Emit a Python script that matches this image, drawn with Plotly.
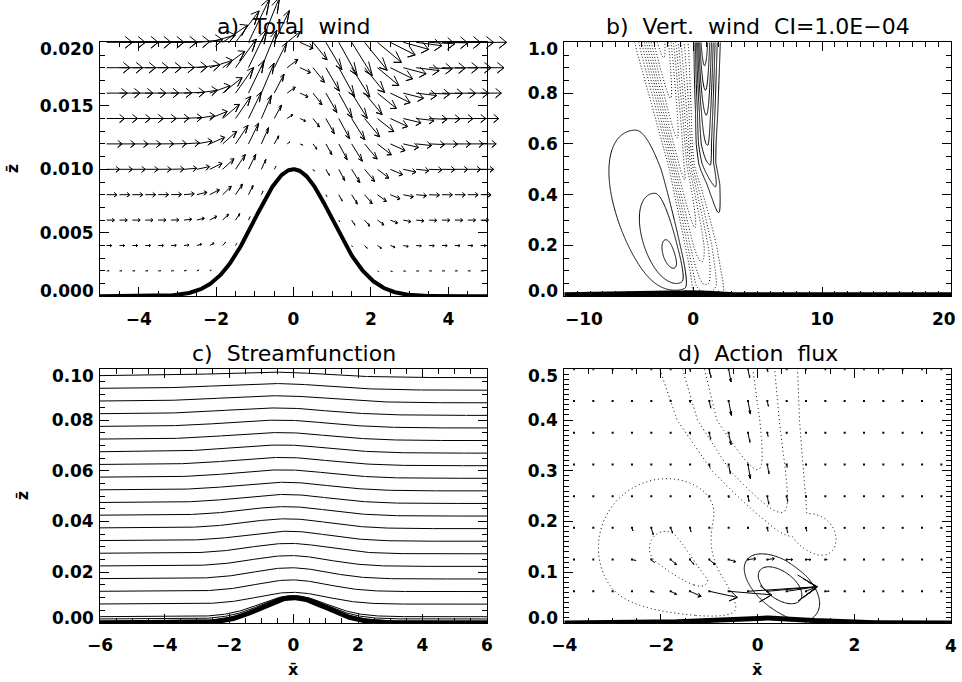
import numpy as np
import plotly.graph_objects as go

FIG_W, FIG_H = 962, 682

# ====================== data ======================
hill_height = 0.01          # crest height of the gaussian hill
hill_sigma = 1.0            # gaussian half-width

# a) total wind: arrow grid + wave shape parameters
a_x = [round(-4.83 + k / 3.0, 3) for k in range(30)]
a_z = [0.002, 0.004, 0.006, 0.008, 0.010, 0.012, 0.014, 0.016, 0.018, 0.020]
a_arrow_len = 33.3          # arrow length per unit wind
a_up_narrow = 10.0          # upstream wave narrowing per unit height
a_lee_widen = 5.0           # lee wave widening per unit height

# b) vertical wind (units of CI = 1e-4)
b_left = [6.5, 0.10, 0.35, -0.5, -6.0, 1.5, 3.5, 0.3, 2.2]   # amp, rise, decay, x0, tilt, wl0, wl1, wr0, wr1
b_n_z = [0.0, 0.05, 0.2, 0.5, 0.97, 1.0]                     # negative band
b_n_xc = [1.1, 0.97, 0.39, -0.85, -2.4, -2.5]
b_n_half = [1.3, 1.36, 1.42, 1.2, 2.13, 2.15]
b_n_amp = [-1.5, -3.1, -4.7, -6.5, -9.3, -9.5]
b_p_z = [0.30, 0.33, 0.44, 0.525, 0.60, 0.72, 1.0]          # upper positive lobe
b_p_xc = [2.0, 1.95, 1.7, 1.3, 1.1, 1.0, 0.8]
b_p_amp = [0.0, 1.1, 2.1, 3.1, 4.1, 5.1, 8.0]
b_p_sl = [0.3, 0.3, 0.6, 0.8, 0.7, 0.55, 0.4]
b_p_sr = [0.25, 0.25, 0.3, 0.3, 0.4, 0.5, 0.64]

# c) streamfunction: upstream height of each streamline and its crest displacement
c_z0 = [0.0008, 0.0016, 0.0025, 0.0075, 0.0125, 0.0175, 0.0225, 0.0275, 0.0325,
        0.0375, 0.0425, 0.0475, 0.0525, 0.0575, 0.0625, 0.0675, 0.0725, 0.0775,
        0.0825, 0.0875, 0.0925, 0.0975]
c_eta = [0.0095, 0.0090, 0.0083, 0.0046, 0.0045, 0.0043, 0.0041, 0.0039, 0.0037,
         0.0036, 0.0034, 0.0032, 0.0030, 0.0029, 0.0028, 0.0027, 0.0026, 0.0025,
         0.0023, 0.0021, 0.0019, 0.0014]
c_shift = -4.5              # crest shift per unit height
c_widen = 8.0               # bump widening per unit height
c_drop = 0.008              # downstream lowering per unit height

# d) action flux: arrow grid, explicit low rows, descending band
d_x = [round(-3.8 + 0.4 * k, 2) for k in range(20)]
d_z = [0.0625, 0.125, 0.1875, 0.25, 0.3125, 0.375, 0.4375, 0.5]
d_row1_dx = [0, 0, 0, 0.02, 0.06, 0.12, 0.23, 0.58, 0.89, 1.43, 1.03, 0.63, 0.23, 0.08, 0.02, 0, 0, 0, 0, 0]
d_row1_dz = [0, 0, 0, 0, -0.002, -0.006, -0.010, -0.012, -0.007, 0.009, 0.009, 0.009, 0.009, 0, 0, 0, 0, 0, 0, 0]
d_row2_dx = [0, 0, 0.01, 0.08, 0.06, 0.12, 0.08, 0.12, 0.145, 0.165, 0.145, 0.124, 0.10, 0.04, 0, 0, 0, 0, 0, 0]
d_row2_dz = [0, 0, 0, -0.002, -0.006, -0.010, -0.010, -0.010, -0.004, 0.002, 0.002, 0, 0, 0, 0, 0, 0, 0, 0, 0]
d_row3_dx = [0, 0, 0, 0.02, 0.04, 0.04, 0.02, 0, 0, 0, 0, 0, 0, 0, 0, 0, 0, 0, 0, 0]
d_row3_dz = [0, 0, 0, -0.006, -0.014, -0.010, -0.008, 0, 0, 0, 0, 0, 0, 0, 0, 0, 0, 0, 0, 0]
d_band_xc = [0, 0, 0.6, 0.2, -0.2, -0.5, -0.45, -0.6]
d_band_dz = [0, 0, 0.010, 0.016, 0.028, 0.024, 0.030, 0.025]
d_band_dx = [0, 0, 0.02, 0.03, 0.05, 0.05, 0.06, 0.05]
d_band_w = 0.45
# contours: descending negative band (profile vs height)
d_up_z = [0.10, 0.15, 0.20, 0.30, 0.40, 0.50, 0.55]
d_up_xc = [0.80, 0.70, 0.55, 0.0, -0.40, -0.60, -0.70]
d_up_sig = [0.35, 0.38, 0.42, 0.64, 0.80, 0.90, 0.95]
d_up_amp = [-0.5, -1.2, -2.0, -3.0, -3.5, -3.5, -3.5]
d_lower = (-2.62, (-0.8, 0.067), (-1.85, 0.148), 1.5)     # lower-left lobe (exponential)
d_bulge = (-1.8, (1.05, 0.16), 0.55)                       # lobe right of the cell
d_cell = (2.7, (0.45, 0.075), (0.811, -0.585), 0.75, 0.41)  # positive cell: amp, centre, axis, widths

# ====================== layout boxes (pixels) ======================
BOX = {'a': (100, 487, 42.3, 296.3), 'b': (564.3, 951, 42.3, 296.3),
       'c': (100, 487, 369.3, 623), 'd': (564.3, 951, 369.3, 623)}
RNG = {'a': ([-5, 5], [0, 0.02]), 'b': ([-10, 20], [0, 1]),
       'c': ([-6, 6], [0, 0.1]), 'd': ([-4, 4], [0, 0.5])}


def xdom(k):
    return [BOX[k][0] / FIG_W, BOX[k][1] / FIG_W]


def ydom(k):
    return [1 - BOX[k][3] / FIG_H, 1 - BOX[k][2] / FIG_H]


def hill(x):
    x = np.asarray(x, dtype=float)
    return hill_height * np.exp(-x ** 2 / (2 * hill_sigma ** 2))


def quiver(x0, z0, dx, dz, xstep, zstep, r=0.3, ang=np.deg2rad(22.5)):
    st, ct = r * np.sin(ang), r * np.cos(ang)
    xs, ys = [], []
    for X0, Z0, DX, DZ in zip(x0, z0, dx, dz):
        if DX == 0 and DZ == 0:
            continue
        X1, Z1 = X0 + DX, Z0 + DZ
        ux, uz = DX / xstep, DZ / zstep
        xs += [X0, X1, X1 - (ct * ux - st * uz) * xstep, X1, X1 - (ct * ux + st * uz) * xstep, None]
        ys += [Z0, Z1, Z1 - (ct * uz + st * ux) * zstep, Z1, Z1 - (ct * uz - st * ux) * zstep, None]
    return xs, ys


def asym_gauss(X, c, sl, sr):
    s = np.where(X < c, sl, sr)
    return np.exp(-0.5 * ((X - c) / s) ** 2)


fig = go.Figure()
BLK = 'black'

# ---------------------------- panel a ----------------------------
AX, AZ = np.meshgrid(np.array(a_x), np.array(a_z))
sig = np.where(AX < 0, hill_sigma - a_up_narrow * AZ, hill_sigma + a_lee_widen * AZ)
eta = hill_height * np.exp(-AX ** 2 / (2 * sig ** 2))
eta_x = -AX / sig ** 2 * eta
ua = AZ - eta
wa = ua * eta_x
ok = (AZ > hill(AX)) & (ua > 0)
adx = np.where(ok, a_arrow_len * ua, 0.0)
adz = np.where(ok, a_arrow_len * wa, 0.0)
qx, qy = quiver(AX.ravel(), AZ.ravel(), adx.ravel(), adz.ravel(), 1 / 3.0, 0.002)
fig.add_trace(go.Scatter(x=qx, y=qy, mode='lines', line=dict(color=BLK, width=1),
                         xaxis='x5', yaxis='y5', hoverinfo='skip'))
hx = np.linspace(-5, 5, 401)
fig.add_trace(go.Scatter(x=hx, y=hill(hx), mode='lines', line=dict(color=BLK, width=4),
                         xaxis='x', yaxis='y', hoverinfo='skip'))

# ---------------------------- panel b ----------------------------
bx = np.round(np.arange(-10, 6.0001, 0.04), 3)
bz = np.round(np.linspace(0, 1, 251), 4)
BX, BZ = np.meshgrid(bx, bz)
amp, rise, decay, x0, tilt, wl0, wl1, wr0, wr1 = b_left
L = amp * (1 - np.exp(-BZ / rise)) * np.exp(-BZ / decay) * \
    asym_gauss(BX, x0 + tilt * BZ, wl0 + wl1 * BZ, wr0 + wr1 * BZ)
nA = np.interp(BZ, b_n_z, b_n_amp)
nC = np.interp(BZ, b_n_z, b_n_xc)
nS = np.interp(BZ, b_n_z, b_n_half) / np.sqrt(2 * np.log(np.abs(nA)))
N = nA * np.exp(-0.5 * ((BX - nC) / nS) ** 2)
pA = np.interp(BZ, b_p_z, b_p_amp)
P = pA * asym_gauss(BX, np.interp(BZ, b_p_z, b_p_xc), np.interp(BZ, b_p_z, b_p_sl),
                    np.interp(BZ, b_p_z, b_p_sr))
WB = np.round(L + N + P, 3)
fig.add_trace(go.Contour(x=bx, y=bz, z=WB, xaxis='x2', yaxis='y2', showscale=False,
                         autocontour=False, contours=dict(start=1, end=30, size=1, coloring='none'),
                         line=dict(color=BLK, width=1), hoverinfo='skip'))
fig.add_trace(go.Contour(x=bx, y=bz, z=WB, xaxis='x2', yaxis='y2', showscale=False,
                         autocontour=False, contours=dict(start=-30, end=-1, size=1, coloring='none'),
                         line=dict(color=BLK, width=1, dash='1px,2px'), hoverinfo='skip'))
hbx = np.linspace(-10, 20, 601)
fig.add_trace(go.Scatter(x=hbx, y=hill(hbx), mode='lines', line=dict(color=BLK, width=8),
                         xaxis='x2', yaxis='y2', hoverinfo='skip'))

# ---------------------------- panel c ----------------------------
cx = np.linspace(-6, 6, 361)
for z0, ec in zip(c_z0, c_eta):
    s = c_shift * z0
    wdt = hill_sigma + c_widen * z0
    step = 0.5 * (1 + np.tanh((cx - 0.6) / 0.7))
    zl = z0 + ec * np.exp(-(cx - s) ** 2 / (2 * wdt ** 2)) - c_drop * z0 * step
    fig.add_trace(go.Scatter(x=cx, y=zl, mode='lines', line=dict(color=BLK, width=1),
                             xaxis='x3', yaxis='y3', hoverinfo='skip'))
fig.add_trace(go.Scatter(x=cx, y=hill(cx), mode='lines', line=dict(color=BLK, width=5),
                         xaxis='x3', yaxis='y3', hoverinfo='skip'))

# ---------------------------- panel d ----------------------------
zscale = ((BOX['d'][3] - BOX['d'][2]) / 0.5) / ((BOX['d'][1] - BOX['d'][0]) / 8.0)
dxg = np.linspace(-4, 4, 321)
dzg = np.linspace(0, 0.5, 201)
DX, DZ = np.meshgrid(dxg, dzg)
DZs = DZ * zscale


def seg_dist(p1, p2):
    p1x, p1z = p1[0], p1[1] * zscale
    p2x, p2z = p2[0], p2[1] * zscale
    vx, vz = p2x - p1x, p2z - p1z
    t = np.clip(((DX - p1x) * vx + (DZs - p1z) * vz) / (vx * vx + vz * vz), 0, 1)
    return np.hypot(DX - (p1x + t * vx), DZs - (p1z + t * vz))


uA = np.interp(DZ, d_up_z, d_up_amp, left=0.0)
F_up = uA * np.exp(-0.5 * ((DX - np.interp(DZ, d_up_z, d_up_xc)) / np.interp(DZ, d_up_z, d_up_sig)) ** 2)
amp, p1, p2, sg = d_lower
F_lo = amp * np.exp(-seg_dist(p1, p2) / sg) * (1 - np.exp(-DZ / 0.015))
amp, cc, sg = d_bulge
F_rb = amp * np.exp(-0.5 * ((DX - cc[0]) ** 2 + (DZs - cc[1] * zscale) ** 2) / sg ** 2)
amp, cc, ax_, sa, sc = d_cell
ra = (DX - cc[0]) * ax_[0] + (DZs - cc[1] * zscale) * ax_[1]
rc = -(DX - cc[0]) * ax_[1] + (DZs - cc[1] * zscale) * ax_[0]
G = np.exp(-0.5 * ((ra / sa) ** 2 + (rc / sc) ** 2))
G2 = np.exp(-0.5 * ((ra / (1.4 * sa)) ** 2 + (rc / (1.4 * sc)) ** 2))
F = np.minimum(np.minimum(F_up, F_lo), F_rb) * (1 - G2) + amp * G
F = np.round(F, 3)
fig.add_trace(go.Contour(x=dxg, y=dzg, z=F, xaxis='x4', yaxis='y4', showscale=False,
                         autocontour=False, contours=dict(start=1, end=10, size=1, coloring='none'),
                         line=dict(color=BLK, width=1), hoverinfo='skip'))
fig.add_trace(go.Contour(x=dxg, y=dzg, z=F, xaxis='x4', yaxis='y4', showscale=False,
                         autocontour=False, contours=dict(start=-10, end=-1, size=1, coloring='none'),
                         line=dict(color=BLK, width=1, dash='1px,3px'), hoverinfo='skip'))
# action flux arrows
gx, gz, fdx, fdz = [], [], [], []
rows_dx = [d_row1_dx, d_row2_dx, d_row3_dx]
rows_dz = [d_row1_dz, d_row2_dz, d_row3_dz]
for j, z in enumerate(d_z):
    for i, x in enumerate(d_x):
        ddx = rows_dx[j][i] if j < 3 else 0.0
        ddz = rows_dz[j][i] if j < 3 else 0.0
        g = np.exp(-0.5 * ((x - d_band_xc[j]) / d_band_w) ** 2)
        ddx += d_band_dx[j] * g
        ddz -= d_band_dz[j] * g
        gx.append(x); gz.append(z); fdx.append(ddx); fdz.append(ddz)
qx, qy = quiver(gx, gz, fdx, fdz, 0.4, 0.0625)
fig.add_trace(go.Scatter(x=qx, y=qy, mode='lines', line=dict(color=BLK, width=1),
                         xaxis='x4', yaxis='y4', hoverinfo='skip'))
fig.add_trace(go.Scatter(x=gx, y=gz, mode='markers', marker=dict(color=BLK, size=2, symbol='square'),
                         xaxis='x4', yaxis='y4', hoverinfo='skip'))
hdx = np.linspace(-4, 4, 321)
fig.add_trace(go.Scatter(x=hdx, y=hill(hdx), mode='lines', line=dict(color=BLK, width=5),
                         xaxis='x4', yaxis='y4', hoverinfo='skip'))

# ---------------------------- axes ----------------------------
TICKFONT = dict(family='DejaVu Sans', size=17, color=BLK, weight='bold')
X_STANDOFF, Y_STANDOFF = 7, 2


def fmt_tick(fmt, v):
    return fmt.format(v).replace('-', '\u2212')


def axis(k, which, vals, fmt, minor, blank=()):
    xr, yr = RNG[k]
    rng = xr if which == 'x' else yr
    text = ['' if i in blank else fmt_tick(fmt, v) for i, v in enumerate(vals)]
    return dict(range=rng, showline=True, linecolor=BLK, linewidth=1, mirror='allticks',
                ticks='inside', ticklen=9, tickwidth=1, tickcolor=BLK,
                tickmode='array', tickvals=vals, ticktext=text,
                minor=dict(tick0=0, dtick=minor, ticks='inside', ticklen=5, tickwidth=1,
                           tickcolor=BLK, showgrid=False),
                showgrid=False, zeroline=False, tickfont=TICKFONT,
                ticklabelstandoff=X_STANDOFF if which == 'x' else Y_STANDOFF,
                automargin=False, fixedrange=True)


ids = {'a': ('xaxis', 'yaxis', 'x', 'y'), 'b': ('xaxis2', 'yaxis2', 'x2', 'y2'),
       'c': ('xaxis3', 'yaxis3', 'x3', 'y3'), 'd': ('xaxis4', 'yaxis4', 'x4', 'y4')}
xt = {'a': ([-4, -2, 0, 2, 4], '{:d}', 0.5), 'b': ([-10, 0, 10, 20], '{:d}', 1),
      'c': ([-6, -4, -2, 0, 2, 4, 6], '{:d}', 0.5), 'd': ([-4, -2, 0, 2, 4], '{:d}', 0.5)}
# x tick labels placed by hand at the figure edges: (index, xanchor, xshift)
x_edge = {'b': [(0, 'left', -1), (3, 'right', 7)], 'd': [(4, 'center', 0)]}
yt = {'a': ([0, 0.005, 0.010, 0.015, 0.020], '{:.3f}', 0.001),
      'b': ([0, 0.2, 0.4, 0.6, 0.8, 1.0], '{:.1f}', 0.05),
      'c': ([0, 0.02, 0.04, 0.06, 0.08, 0.10], '{:.2f}', 0.005),
      'd': ([0, 0.1, 0.2, 0.3, 0.4, 0.5], '{:.1f}', 0.01)}
layout_axes = {}
annotations = []
for k, (xa, ya, xs_, ys_) in ids.items():
    xvals, xfmt, xminor = xt[k]
    edges = x_edge.get(k, [])
    dx_ = axis(k, 'x', xvals, xfmt, xminor, blank=[e[0] for e in edges])
    dx_.update(domain=xdom(k), anchor=ys_)
    vals, fmt, yminor = yt[k]
    dy_ = axis(k, 'y', vals, fmt, yminor, blank=[0, len(vals) - 1])
    dy_.update(domain=ydom(k), anchor=xs_)
    layout_axes[xa] = dx_
    layout_axes[ya] = dy_
    for v, sh in ((vals[0], 5), (vals[-1], -7)):
        annotations.append(dict(text=fmt_tick(fmt, v), xref=xs_ + ' domain', yref=ys_, x=0, y=v,
                                xanchor='right', yanchor='middle', xshift=-4, yshift=sh,
                                showarrow=False, font=TICKFONT))
    for idx, anc, xsh in edges:
        annotations.append(dict(text=fmt_tick(xfmt, xvals[idx]), xref=xs_, yref=ys_ + ' domain',
                                x=xvals[idx], y=0, xanchor=anc, yanchor='middle', xshift=xsh,
                                yshift=-23, showarrow=False, font=TICKFONT))

# overlay axes for panel a arrows (same data scale, full-figure extent -> no clipping)
(xa0, xa1), (ya0, ya1) = RNG['a']
d0, d1 = xdom('a')
sx = (xa1 - xa0) / (d1 - d0)
e0, e1 = ydom('a')
sy = (ya1 - ya0) / (e1 - e0)
layout_axes['xaxis5'] = dict(domain=[0, 1], anchor='y5', range=[xa0 - d0 * sx, xa1 + (1 - d1) * sx],
                             visible=False, fixedrange=True, automargin=False)
layout_axes['yaxis5'] = dict(domain=[0, 1], anchor='x5', range=[ya0 - e0 * sy, ya1 + (1 - e1) * sy],
                             visible=False, fixedrange=True, automargin=False)

# titles
TFONT = dict(family='DejaVu Sans', size=22, color=BLK)
titles = {'a': 'a)  Total  wind', 'b': 'b)  Vert.  wind  CI=1.0E\u221204',
          'c': 'c)  Streamfunction', 'd': 'd)  Action  flux'}
for k, t in titles.items():
    xs_ = ids[k][2]
    ys_ = ids[k][3]
    annotations.append(dict(text=t, xref=xs_ + ' domain', yref=ys_ + ' domain', x=0.5, y=1,
                            xanchor='center', yanchor='bottom', yshift=1, showarrow=False, font=TFONT))
# axis titles
AFONT = dict(family='DejaVu Sans', size=16, color=BLK, weight='bold')
annotations.append(dict(text='z\u0304', xref='x domain', yref='y domain', x=0, y=0.5, xshift=-88,
                        xanchor='center', yanchor='middle', textangle=-90, showarrow=False, font=AFONT))
annotations.append(dict(text='z\u0304', xref='x3 domain', yref='y3 domain', x=0, y=0.5, xshift=-78,
                        xanchor='center', yanchor='middle', textangle=-90, showarrow=False, font=AFONT))
annotations.append(dict(text='x\u0304', xref='x3 domain', yref='y3 domain', x=0.5, y=0, yshift=-46,
                        xanchor='center', yanchor='middle', showarrow=False, font=AFONT))
annotations.append(dict(text='x\u0304', xref='x4 domain', yref='y4 domain', x=0.5, y=0, yshift=-46,
                        xanchor='center', yanchor='middle', showarrow=False, font=AFONT))

fig.update_layout(width=FIG_W, height=FIG_H, margin=dict(l=0, r=0, t=0, b=0, autoexpand=False),
                  paper_bgcolor='white', plot_bgcolor='rgba(0,0,0,0)', showlegend=False,
                  annotations=annotations, **layout_axes)
fig.write_html('out.html', config={'displayModeBar': False},
               post_script="document.body.style.margin='0';document.body.style.overflow='hidden';")
